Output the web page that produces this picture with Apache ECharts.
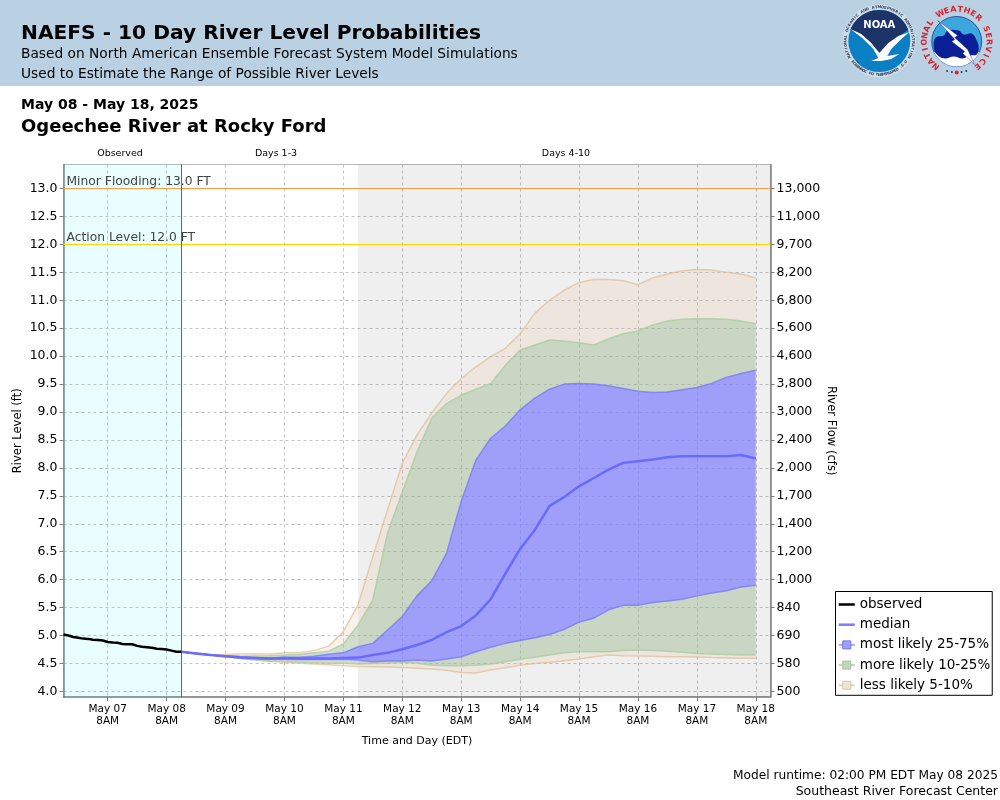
<!DOCTYPE html>
<html>
<head>
<meta charset="utf-8">
<title>NAEFS - 10 Day River Level Probabilities</title>
<script src="https://cdn.jsdelivr.net/npm/echarts@6/dist/echarts.min.js"></script>
<style>
  html, body { margin: 0; padding: 0; background: #fff; }
  #chart { width: 1000px; height: 800px; }
</style>
</head>
<body>
<div id="chart"></div>
<script>
// observed stage, every 2 hours from May 06 2PM to May 08 2PM
const observed = [5.02, 5.00, 4.975, 4.96, 4.945, 4.94, 4.925, 4.92, 4.91, 4.885, 4.875, 4.87, 4.85,
  4.845, 4.845, 4.815, 4.80, 4.79, 4.78, 4.765, 4.76, 4.75, 4.73, 4.71, 4.71];

// forecast stage, every 6 hours from May 08 2PM to May 18 8AM
const median = [4.71, 4.68, 4.65, 4.63, 4.61, 4.60, 4.59, 4.60, 4.59, 4.59, 4.59, 4.60, 4.605, 4.65, 4.69, 4.755,
  4.83, 4.92, 5.06, 5.17, 5.36, 5.65, 6.11, 6.55, 6.89, 7.32, 7.48, 7.67, 7.82, 7.97, 8.09, 8.12, 8.15, 8.19,
  8.21, 8.21, 8.21, 8.21, 8.23, 8.17];
const p05 = [4.71, 4.68, 4.65, 4.62, 4.59, 4.56, 4.54, 4.52, 4.505, 4.49, 4.475, 4.46, 4.445, 4.44, 4.435, 4.43,
  4.415, 4.40, 4.38, 4.34, 4.33, 4.385, 4.425, 4.47, 4.50, 4.52, 4.55, 4.58, 4.62, 4.65, 4.64, 4.635, 4.63, 4.62,
  4.62, 4.615, 4.605, 4.60, 4.595, 4.595];
const p10 = [4.71, 4.68, 4.65, 4.62, 4.59, 4.565, 4.545, 4.54, 4.525, 4.515, 4.505, 4.505, 4.49, 4.50, 4.505, 4.52,
  4.505, 4.47, 4.46, 4.46, 4.47, 4.49, 4.53, 4.575, 4.61, 4.65, 4.69, 4.71, 4.71, 4.71, 4.73, 4.74, 4.73, 4.72,
  4.70, 4.68, 4.67, 4.66, 4.65, 4.65];
const p25 = [4.71, 4.68, 4.65, 4.625, 4.60, 4.585, 4.575, 4.575, 4.57, 4.57, 4.57, 4.575, 4.56, 4.53, 4.545, 4.545,
  4.56, 4.545, 4.58, 4.62, 4.71, 4.79, 4.86, 4.91, 4.96, 5.02, 5.11, 5.24, 5.31, 5.46, 5.54, 5.54, 5.59, 5.62,
  5.65, 5.71, 5.76, 5.80, 5.87, 5.90];
const p75 = [4.71, 4.68, 4.65, 4.635, 4.62, 4.605, 4.60, 4.61, 4.61, 4.63, 4.665, 4.69, 4.80, 4.86, 5.10, 5.34,
  5.71, 5.98, 6.47, 7.40, 8.14, 8.53, 8.75, 9.04, 9.25, 9.41, 9.50, 9.51, 9.50, 9.47, 9.42, 9.37, 9.35, 9.36,
  9.40, 9.44, 9.51, 9.62, 9.69, 9.75];
const p90 = [4.71, 4.68, 4.65, 4.64, 4.63, 4.635, 4.64, 4.65, 4.66, 4.69, 4.72, 4.85, 5.19, 5.64, 6.84, 7.57,
  8.29, 8.89, 9.15, 9.30, 9.41, 9.51, 9.84, 10.11, 10.20, 10.29, 10.27, 10.24, 10.20, 10.31, 10.40, 10.45, 10.56,
  10.63, 10.66, 10.67, 10.67, 10.66, 10.63, 10.58];
const p95 = [4.71, 4.68, 4.65, 4.66, 4.67, 4.67, 4.67, 4.69, 4.69, 4.73, 4.81, 5.07, 5.55, 6.41, 7.25, 8.08,
  8.59, 8.98, 9.33, 9.60, 9.81, 9.99, 10.14, 10.40, 10.77, 11.00, 11.18, 11.32, 11.37, 11.37, 11.35, 11.28, 11.40,
  11.47, 11.53, 11.55, 11.54, 11.50, 11.47, 11.40];

// axis labels
const stageTicks = [4.0, 4.5, 5.0, 5.5, 6.0, 6.5, 7.0, 7.5, 8.0, 8.5, 9.0, 9.5, 10.0, 10.5, 11.0, 11.5, 12.0, 12.5, 13.0];
const flowLabels = ['500', '580', '690', '840', '1,000', '1,200', '1,400', '1,700', '2,000', '2,400', '3,000', '3,800',
  '4,600', '5,600', '6,800', '8,200', '9,700', '11,000', '13,000'];
const dayLabels = ['May 07', 'May 08', 'May 09', 'May 10', 'May 11', 'May 12', 'May 13', 'May 14', 'May 15', 'May 16',
  'May 17', 'May 18'];

const FONT = '"DejaVu Sans"';
const HOUR = 3600 * 1000;
const axisStart = new Date(2025, 4, 6, 14).getTime();
const axisEnd = new Date(2025, 4, 18, 14).getTime();
const forecastStart = new Date(2025, 4, 8, 14).getTime();
const longRangeStart = new Date(2025, 4, 11, 14).getTime();

const dayTicks = dayLabels.map((d, i) => new Date(2025, 4, 7 + i, 8).getTime());

function withTimes(values, start, stepHours) {
  return values.map((v, i) => [start + i * stepHours * HOUR, v]);
}

// echarts stacks the first value dimension, so the fan series keep stage first and time second
function fanData(values) {
  return values.map((v, i) => [v, forecastStart + i * 6 * HOUR]);
}

function diff(upper, lower) {
  return upper.map((v, i) => +(v - lower[i]).toFixed(3));
}

// one slice of the stacked fan, the edge line sits on the upper side of the slice
function band(name, values, fill, edge) {
  return {
    name: name,
    type: 'line',
    stack: 'fan',
    z: 3,
    symbol: 'rect',
    showSymbol: false,
    silent: true,
    dimensions: ['stage', 'time'],
    encode: { x: 'time', y: 'stage' },
    data: fanData(values),
    lineStyle: { color: edge, width: 1.5 },
    itemStyle: { color: edge },
    areaStyle: { color: fill, opacity: 1 }
  };
}

const tanFill = 'rgba(235,205,170,0.25)';
const greenFill = 'rgba(161,189,151,0.5)';
const blueFill = 'rgba(125,125,253,0.7)';
const tanEdge = 'rgba(222,190,150,0.7)';
const greenEdge = 'rgba(170,205,160,0.8)';
const blueEdge = 'rgba(120,120,250,0.8)';

function legendBox(name, fill, border, line) {
  return {
    name: name,
    itemStyle: { color: fill, borderColor: border, borderWidth: 1 },
    lineStyle: { color: line, width: 2 }
  };
}

function label(text, x, y, size, opts) {
  opts = opts || {};
  return {
    type: 'text',
    silent: true,
    z: 20,
    style: {
      text: text, x: x, y: y,
      font: (opts.bold ? 'bold ' : '') + size + 'px ' + FONT,
      fill: opts.color || '#000',
      align: opts.align || 'left',
      verticalAlign: 'middle'
    }
  };
}

// letters placed one by one around a circle, degrees are clockwise from the top
function ringText(text, cx, cy, r, from, to, size, color, weight, flip) {
  const out = [];
  const n = text.length;
  for (let i = 0; i < n; i++) {
    const deg = from + (to - from) * i / (n - 1);
    const a = deg * Math.PI / 180;
    out.push({
      type: 'text',
      silent: true,
      z: 21,
      x: cx + r * Math.sin(a),
      y: cy - r * Math.cos(a),
      rotation: flip ? Math.PI - a : -a,
      style: {
        text: text[i],
        font: weight + ' ' + size + 'px ' + FONT,
        fill: color,
        align: 'center',
        verticalAlign: 'middle'
      }
    });
  }
  return out;
}

function arcPoints(r, from, to, n) {
  const pts = [];
  for (let i = 0; i <= n; i++) {
    const a = (from + (to - from) * i / n) * Math.PI / 180;
    pts.push([r * Math.sin(a), -r * Math.cos(a)]);
  }
  return pts;
}

function shape(points, cx, cy, style, smooth, z) {
  return {
    type: 'polygon',
    silent: true,
    z: z || 20,
    x: cx,
    y: cy,
    shape: { points: points, smooth: smooth || 0 },
    style: style
  };
}

function noaaLogo(cx, cy) {
  const navy = arcPoints(31, -68, 68, 24).concat([[14, 0], [1, 12], [-14, -2]]);
  const bird = [[-29, -12], [-18, -7], [-8, 2], [0, 12], [9, 2], [19, -5], [30, -9], [20, 0], [12, 8], [8, 15],
    [20, 13], [12, 18], [2, 20], [-8, 20], [-1, 17], [-6, 8], [-17, -3]];
  const parts = [
    { type: 'circle', silent: true, z: 20, shape: { cx: cx, cy: cy, r: 36.5 }, style: { fill: '#cfdde9' } },
    { type: 'circle', silent: true, z: 20, shape: { cx: cx, cy: cy, r: 31 }, style: { fill: '#0a7fc4' } },
    shape(navy, cx, cy, { fill: '#1d3468' }),
    shape(bird, cx, cy, { fill: '#fff' }),
    {
      type: 'text', silent: true, z: 21,
      style: { text: 'NOAA', x: cx, y: cy - 16, font: 'bold 10px ' + FONT, fill: '#fff', align: 'center', verticalAlign: 'middle' }
    }
  ];
  return parts
    .concat(ringText('NATIONAL OCEANIC AND ATMOSPHERIC ADMINISTRATION', cx, cy, 33.8, -118, 118, 3.8, '#33415c', 'bold', false))
    .concat(ringText('U.S. DEPARTMENT OF COMMERCE', cx, cy, 33.8, 128, 232, 3.8, '#33415c', 'bold', true));
}

function nwsLogo(cx, cy) {
  const stars = [-18, -9, 0, 9, 18].map((d, i) => {
    const a = (180 + d) * Math.PI / 180;
    return {
      type: 'circle', silent: true, z: 21,
      shape: { cx: cx + 31 * Math.sin(a), cy: cy - 31 * Math.cos(a), r: i === 2 ? 2 : 1 },
      style: { fill: i === 2 ? '#e0202a' : '#1d3a8a' }
    };
  });
  const cloud = [[-23, 5], [-21, -4], [-13, -6], [-9, -11], [2, -11], [7, -7], [15, -8], [20, -1], [22, 6], [20, 13],
    [13, 14], [6, 17], [-3, 15], [-12, 17], [-20, 13]];
  const bolt = [[-19, -21], [1, -6], [-2, -4], [11, 8], [18, 23], [6, 12], [8, 10], [-5, 0], [-2, -2]];
  const parts = [
    { type: 'circle', silent: true, z: 20, shape: { cx: cx, cy: cy, r: 25 }, style: { fill: '#3ba7dc', stroke: '#123a8c', lineWidth: 0.8 } },
    shape(arcPoints(25, 115, 245, 16), cx, cy, { fill: '#fff' }),
    shape(cloud, cx, cy, { fill: '#0a1e96' }, 0.4),
    shape(bolt, cx, cy, { fill: '#fff', stroke: '#0a1e96', lineWidth: 0.4 }, 0, 21)
  ];
  return parts
    .concat(ringText('NATIONAL WEATHER SERVICE', cx, cy, 32, -140, 140, 8, '#d8232a', 'bold', false))
    .concat(stars);
}

const pageGraphics = [
  { type: 'rect', silent: true, z: 10, shape: { x: 0, y: 0, width: 1000, height: 86 }, style: { fill: '#bad1e4' } },
  label('NAEFS - 10 Day River Level Probabilities', 21, 34, 20.2, { bold: true }),
  label('Based on North American Ensemble Forecast System Model Simulations', 21, 54.5, 13.75),
  label('Used to Estimate the Range of Possible River Levels', 21, 74, 13.75),
  label('May 08 - May 18, 2025', 21, 105.5, 14, { bold: true }),
  label('Ogeechee River at Rocky Ford', 21, 127, 18, { bold: true }),
  label('Observed', 120, 154, 9.5, { align: 'center' }),
  label('Days 1-3', 276, 154, 9.5, { align: 'center' }),
  label('Days 4-10', 566, 154, 9.5, { align: 'center' }),
  label('Model runtime: 02:00 PM EDT May 08 2025', 998, 776, 12.2, { align: 'right' }),
  label('Southeast River Forecast Center', 998, 792, 12.5, { align: 'right' })
].concat(noaaLogo(879.3, 41), nwsLogo(956.7, 41.5));

const chart = echarts.init(document.getElementById('chart'));

chart.setOption({
  animation: false,
  backgroundColor: '#fff',
  textStyle: { fontFamily: FONT },
  graphic: { elements: pageGraphics },
  grid: {
    left: 63.5, right: 229.5, top: 164.5, bottom: 103,
    outerBoundsMode: 'none',
    show: true, borderColor: '#b8b8b8', borderWidth: 1, containLabel: false
  },
  legend: {
    orient: 'vertical',
    left: 835.5, top: 591.5,
    padding: [6, 2, 3, 2],
    itemGap: 6.2,
    itemWidth: 16, itemHeight: 10,
    backgroundColor: '#fff',
    borderColor: '#000',
    borderWidth: 1,
    borderRadius: 0,
    textStyle: { fontFamily: FONT, fontSize: 13.5, color: '#000' },
    data: [
      { name: 'observed', itemStyle: { opacity: 0 }, lineStyle: { color: '#000', width: 2.5 } },
      { name: 'median', itemStyle: { opacity: 0 }, lineStyle: { color: '#7c7cff', width: 2.5 } },
      legendBox('most likely 25-75%', '#a0a0fa', '#7070f0', '#a8a8fb'),
      legendBox('more likely 10-25%', '#c0d6b8', '#a8c8a0', '#b4d8ac'),
      legendBox('less likely 5-10%', '#efe4d6', '#dcc4a8', '#e4cfb8')
    ]
  },
  xAxis: {
    type: 'value',
    min: axisStart,
    max: axisEnd,
    axisLine: { show: true, lineStyle: { color: '#808080', width: 1.5 } },
    axisTick: { show: true, length: 4, lineStyle: { color: '#808080' }, customValues: dayTicks },
    axisLabel: {
      customValues: dayTicks,
      formatter: (v) => dayLabels[dayTicks.indexOf(v)] + '\n8AM',
      fontSize: 10.5, lineHeight: 12.5, color: '#000', margin: 6,
      hideOverlap: false
    },
    splitLine: { show: true, lineStyle: { color: '#c4c4c4', type: [3, 3], width: 1 } },
    name: 'Time and Day (EDT)',
    nameLocation: 'middle',
    nameGap: 39,
    nameTextStyle: { fontSize: 11, color: '#000', fontFamily: FONT }
  },
  yAxis: [
    {
      type: 'value',
      min: 3.9, max: 13.43,
      position: 'left',
      axisLine: { show: true, lineStyle: { color: '#808080', width: 1.5 } },
      axisTick: { show: true, length: 4, lineStyle: { color: '#808080' }, customValues: stageTicks },
      axisLabel: {
        customValues: stageTicks,
        formatter: (v) => v.toFixed(1),
        fontSize: 12.5, color: '#000', margin: 6, padding: [1.5, 0, 0, 0]
      },
      splitLine: { show: true, lineStyle: { color: '#c4c4c4', type: [3, 3], width: 1 } },
      name: 'River Level (ft)',
      nameLocation: 'middle',
      nameGap: 39,
      nameRotate: 90,
      nameMoveOverlap: false,
      nameTextStyle: { fontSize: 11.5, color: '#000', fontFamily: FONT }
    },
    {
      type: 'value',
      min: 3.9, max: 13.43,
      position: 'right',
      axisLine: { show: true, lineStyle: { color: '#808080', width: 1.5 } },
      axisTick: { show: true, length: 4, lineStyle: { color: '#808080' }, customValues: stageTicks },
      axisLabel: {
        customValues: stageTicks,
        formatter: (v) => flowLabels[stageTicks.indexOf(v)],
        fontSize: 12.5, color: '#000', margin: 6, padding: [1.5, 0, 0, 0]
      },
      splitLine: { show: false },
      name: 'River Flow (cfs)',
      nameLocation: 'middle',
      nameGap: 55,
      nameRotate: -90,
      nameMoveOverlap: false,
      nameTextStyle: { fontSize: 11.6, color: '#000', fontFamily: FONT }
    }
  ],
  series: [
    {
      // background periods
      name: 'periods',
      type: 'line',
      z: 1,
      silent: true,
      data: [],
      markArea: {
        silent: true,
        data: [
          [{ xAxis: axisStart, itemStyle: { color: 'rgba(0,255,255,0.085)' } }, { xAxis: forecastStart }],
          [{ xAxis: longRangeStart, itemStyle: { color: 'rgba(0,0,0,0.063)' } }, { xAxis: axisEnd }]
        ]
      }
    },
    {
      name: 'fan base',
      type: 'line',
      stack: 'fan',
      z: 3,
      symbol: 'none',
      silent: true,
      dimensions: ['stage', 'time'],
      encode: { x: 'time', y: 'stage' },
      data: fanData(p05),
      lineStyle: { color: tanEdge, width: 1.5 }
    },
    band('less likely 5-10%', diff(p10, p05), tanFill, greenEdge),
    band('more likely 10-25%', diff(p25, p10), greenFill, blueEdge),
    band('most likely 25-75%', diff(p75, p25), blueFill, blueEdge),
    band('more likely 10-25%', diff(p90, p75), greenFill, greenEdge),
    band('less likely 5-10%', diff(p95, p90), tanFill, tanEdge),
    {
      name: 'median',
      type: 'line',
      z: 5,
      symbol: 'none',
      silent: true,
      data: withTimes(median, forecastStart, 6),
      lineStyle: { color: '#6a6aff', width: 2.5 }
    },
    {
      name: 'observed',
      type: 'line',
      z: 6,
      symbol: 'none',
      silent: true,
      data: withTimes(observed, axisStart, 2),
      lineStyle: { color: '#000', width: 2.5 }
    },
    {
      name: 'levels',
      type: 'line',
      z: 7,
      silent: true,
      data: [],
      markLine: {
        silent: true,
        symbol: 'none',
        animation: false,
        data: [
          {
            yAxis: 13,
            lineStyle: { color: '#ff9c40', width: 1.2, type: 'solid' },
            label: { formatter: 'Minor Flooding: 13.0 FT', position: 'insideStartTop', fontSize: 12.3, color: '#444', distance: [3, 1], fontFamily: FONT }
          },
          {
            yAxis: 12,
            lineStyle: { color: '#ffd400', width: 1.2, type: 'solid' },
            label: { formatter: 'Action Level: 12.0 FT', position: 'insideStartTop', fontSize: 12.3, color: '#444', distance: [3, 1], fontFamily: FONT }
          },
          {
            xAxis: forecastStart,
            lineStyle: { color: '#c8403c', width: 1, type: 'solid' },
            label: { show: false }
          }
        ]
      }
    }
  ]
});
</script>
</body>
</html>
